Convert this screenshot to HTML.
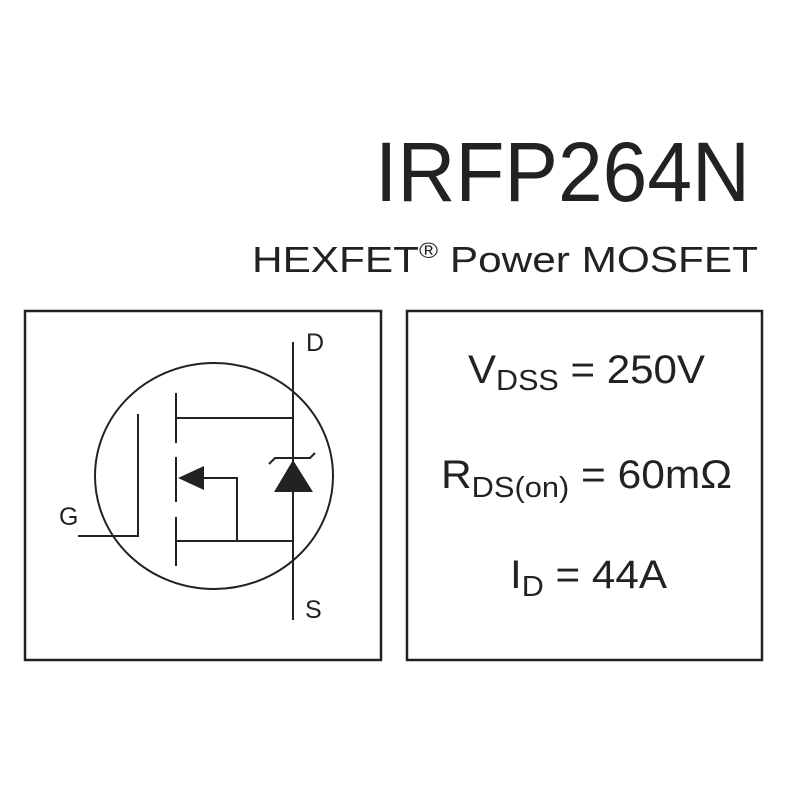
<!DOCTYPE html>
<html><head><meta charset="utf-8"><style>html,body{margin:0;padding:0;background:#fff}svg{display:block}</style></head>
<body>
<svg width="800" height="800" viewBox="0 0 800 800" xmlns="http://www.w3.org/2000/svg" font-family="Liberation Sans, Arial, sans-serif" fill="#222">
<text x="375" y="201" font-size="84" textLength="375" lengthAdjust="spacingAndGlyphs">IRFP264N</text>
<text x="252" y="272" font-size="36" textLength="506" lengthAdjust="spacingAndGlyphs">HEXFET<tspan font-size="22" dy="-14">®</tspan><tspan dy="14"> Power MOSFET</tspan></text>
<g fill="none" stroke="#222">
<rect x="25" y="311" width="356" height="349" stroke-width="2.5"/>
<rect x="407" y="311" width="355" height="349" stroke-width="2.5"/>
<ellipse cx="214" cy="476" rx="119" ry="113" stroke-width="2"/>
<g stroke-width="2">
<line x1="293" y1="342" x2="293" y2="620"/>
<polyline points="78,536 138,536 138,414"/>
<line x1="176" y1="393" x2="176" y2="443"/>
<line x1="176" y1="457" x2="176" y2="502"/>
<line x1="176" y1="517" x2="176" y2="566"/>
<line x1="176" y1="418" x2="293" y2="418"/>
<line x1="176" y1="541" x2="293" y2="541"/>
<polyline points="200,478 237,478 237,541"/>
<polyline points="269,464 275,458 310,458 315,453"/>
</g>
</g>
<polygon points="178,478 204,466 204,490" fill="#222"/>
<polygon points="293,460 274,492 313,492" fill="#222"/>
<g font-size="25"><text x="306" y="351">D</text><text x="59" y="525">G</text><text x="305" y="618">S</text></g>
<g font-size="40">
<text x="468" y="383" textLength="237" lengthAdjust="spacingAndGlyphs">V<tspan font-size="29" dy="7">DSS</tspan><tspan dy="-7"> = 250V</tspan></text>
<text x="441" y="488" textLength="291" lengthAdjust="spacingAndGlyphs">R<tspan font-size="29" dy="9">DS(on)</tspan><tspan dy="-9"> = 60mΩ</tspan></text>
<text x="510" y="588" textLength="157" lengthAdjust="spacingAndGlyphs">I<tspan font-size="29" dy="8">D</tspan><tspan dy="-8"> = 44A</tspan></text>
</g>
</svg>
</body></html>
